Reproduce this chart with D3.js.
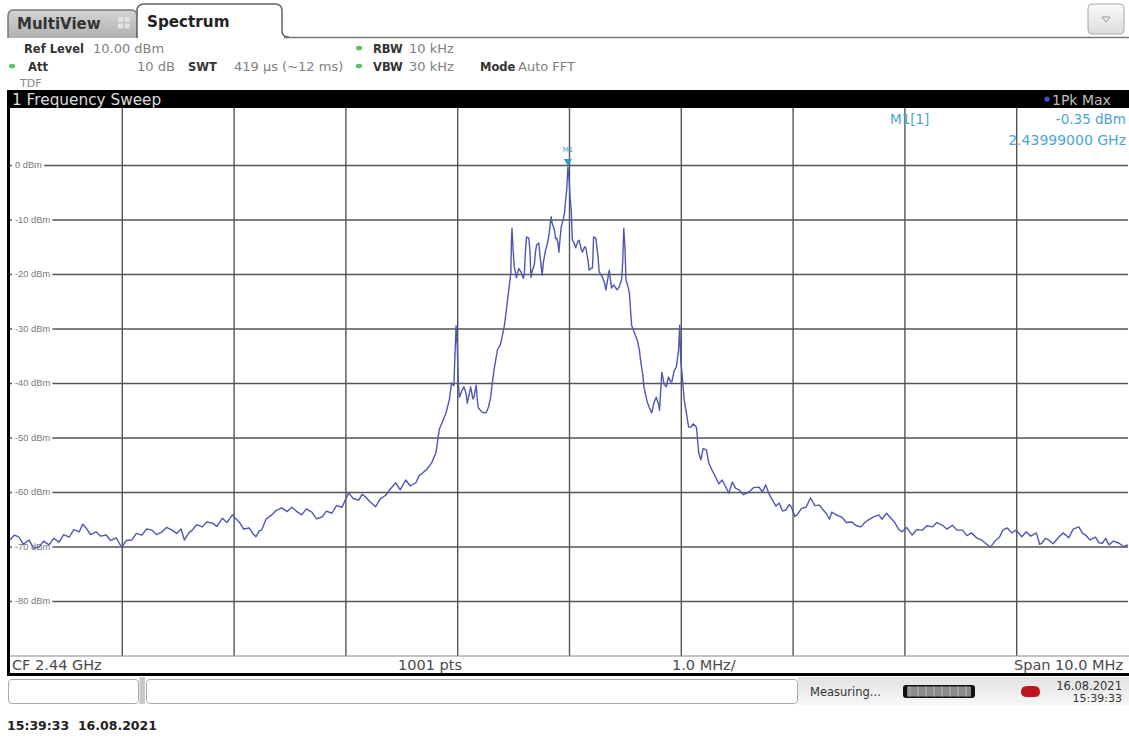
<!DOCTYPE html>
<html><head><meta charset="utf-8">
<script src="https://cdn.jsdelivr.net/npm/d3@7"></script>
<style>
html,body{margin:0;padding:0;background:#fff;}
svg{display:block;}
</style></head>
<body>
<script>
// ---------- DATA ----------
const centerFreqGHz = 2.44;
const spanMHz = 10;
const refLevelDbm = 10;
const levelTicks = [0, -10, -20, -30, -40, -50, -60, -70, -80];
const levelTickLabels = ["0 dBm", "-10 dBm", "-20 dBm", "-30 dBm", "-40 dBm", "-50 dBm", "-60 dBm", "-70 dBm", "-80 dBm"];
const freqDivisionsMHz = [-4, -3, -2, -1, 0, 1, 2, 3, 4];
const marker = {name: "M1", label: "M1[1]", offsetMHz: -0.01, levelDbm: -0.35, levelText: "-0.35 dBm", freqText: "2.43999000 GHz"};
const headerRow1 = [["Ref Level", "10.00 dBm"], ["RBW", "10 kHz"]];
const headerRow2 = [["Att", "10 dB"], ["SWT", "419 µs (~12 ms)"], ["VBW", "30 kHz"], ["Mode", "Auto FFT"]];
const footerLabels = ["CF 2.44 GHz", "1001 pts", "1.0 MHz/", "Span 10.0 MHz"];
const dateText = "16.08.2021";
const timeText = "15:39:33";

// trace: [frequency offset from CF in MHz, level in dBm]
const trace = [
[-5.00,-68.8],[-4.96,-67.9],[-4.92,-68.3],[-4.88,-69.6],[-4.83,-68.8],[-4.79,-70.3],[-4.74,-70.1],[-4.70,-69.0],
[-4.65,-69.7],[-4.61,-68.5],[-4.56,-69.2],[-4.52,-67.8],[-4.47,-68.3],[-4.43,-66.9],[-4.38,-67.3],[-4.35,-65.9],
[-4.32,-66.6],[-4.28,-67.8],[-4.23,-67.3],[-4.19,-68.1],[-4.14,-67.9],[-4.10,-68.9],[-4.05,-68.4],[-4.02,-69.5],
[-4.00,-70.1],[-3.96,-68.9],[-3.91,-68.8],[-3.87,-67.6],[-3.82,-67.9],[-3.78,-66.8],[-3.73,-67.0],[-3.69,-67.8],
[-3.64,-67.3],[-3.60,-66.5],[-3.55,-67.0],[-3.51,-67.6],[-3.47,-66.8],[-3.44,-68.8],[-3.40,-67.5],[-3.37,-67.0],
[-3.33,-66.0],[-3.28,-66.4],[-3.24,-65.5],[-3.19,-65.7],[-3.15,-66.3],[-3.10,-64.8],[-3.06,-65.6],[-3.01,-64.2],
[-2.98,-64.9],[-2.95,-65.5],[-2.91,-66.8],[-2.86,-66.6],[-2.83,-67.6],[-2.80,-68.2],[-2.77,-67.1],[-2.75,-67.0],
[-2.71,-65.0],[-2.66,-64.2],[-2.62,-63.4],[-2.57,-62.9],[-2.52,-63.6],[-2.48,-62.8],[-2.44,-63.5],[-2.39,-64.2],
[-2.35,-63.1],[-2.30,-63.7],[-2.26,-64.9],[-2.21,-64.6],[-2.17,-63.5],[-2.12,-63.9],[-2.08,-62.5],[-2.03,-62.8],
[-2.00,-61.4],[-1.97,-60.2],[-1.93,-61.2],[-1.88,-61.5],[-1.85,-60.4],[-1.82,-60.9],[-1.78,-61.8],[-1.73,-62.7],
[-1.69,-61.3],[-1.64,-60.6],[-1.60,-59.5],[-1.55,-58.3],[-1.51,-59.6],[-1.46,-57.8],[-1.42,-58.9],[-1.37,-58.3],
[-1.34,-57.0],[-1.31,-56.5],[-1.27,-55.8],[-1.23,-54.7],[-1.19,-52.8],[-1.16,-48.5],[-1.12,-46.5],[-1.10,-45.5],
[-1.07,-43.0],[-1.05,-40.0],[-1.03,-40.5],[-1.02,-35.0],[-1.01,-29.5],[-1.00,-33.0],[-0.99,-40.0],[-0.98,-42.6],
[-0.96,-41.5],[-0.94,-40.7],[-0.92,-42.0],[-0.91,-43.7],[-0.89,-41.8],[-0.88,-40.7],[-0.86,-42.9],[-0.85,-42.6],
[-0.84,-41.5],[-0.83,-40.4],[-0.82,-43.2],[-0.81,-44.6],[-0.78,-45.3],[-0.76,-45.5],[-0.74,-45.4],[-0.72,-44.4],
[-0.70,-42.5],[-0.69,-40.7],[-0.67,-37.5],[-0.64,-33.9],[-0.62,-33.2],[-0.61,-32.7],[-0.58,-29.7],[-0.56,-26.6],
[-0.55,-24.8],[-0.53,-21.5],[-0.52,-19.8],[-0.515,-14.0],[-0.51,-11.6],[-0.50,-15.5],[-0.49,-18.7],[-0.48,-19.6],
[-0.47,-20.7],[-0.45,-19.0],[-0.43,-19.6],[-0.41,-20.8],[-0.40,-20.2],[-0.39,-16.0],[-0.38,-13.2],[-0.36,-13.4],
[-0.35,-15.5],[-0.34,-20.6],[-0.33,-19.5],[-0.31,-18.3],[-0.30,-16.0],[-0.29,-14.7],[-0.27,-14.3],[-0.26,-16.5],
[-0.24,-20.2],[-0.23,-18.0],[-0.21,-15.6],[-0.20,-15.0],[-0.18,-13.0],[-0.16,-9.5],[-0.15,-10.8],[-0.13,-11.9],
[-0.12,-13.5],[-0.11,-13.4],[-0.10,-14.2],[-0.09,-16.0],[-0.08,-13.5],[-0.07,-11.4],[-0.05,-9.8],[-0.04,-8.8],
[-0.03,-6.4],[-0.02,-4.5],[-0.01,-0.35],[0.00,-2.5],[0.01,-6.0],[0.02,-8.3],[0.03,-13.8],[0.05,-14.5],
[0.06,-15.2],[0.08,-14.0],[0.09,-13.8],[0.11,-15.5],[0.12,-16.0],[0.14,-15.0],[0.15,-15.2],[0.17,-17.5],
[0.18,-19.3],[0.20,-18.9],[0.21,-18.9],[0.22,-13.2],[0.24,-13.4],[0.26,-17.0],[0.27,-19.6],[0.29,-20.3],
[0.30,-20.6],[0.32,-21.8],[0.33,-22.9],[0.35,-20.5],[0.36,-19.3],[0.37,-21.0],[0.38,-22.6],[0.40,-22.0],
[0.43,-22.9],[0.45,-22.3],[0.47,-21.1],[0.48,-18.0],[0.49,-11.6],[0.50,-15.0],[0.51,-21.1],[0.53,-22.5],
[0.54,-23.5],[0.56,-29.4],[0.58,-30.5],[0.61,-32.1],[0.63,-34.0],[0.64,-35.8],[0.66,-38.5],[0.67,-40.7],
[0.70,-43.5],[0.72,-44.6],[0.74,-45.5],[0.76,-43.6],[0.78,-42.6],[0.80,-43.8],[0.81,-45.0],[0.83,-38.0],
[0.85,-40.2],[0.87,-40.7],[0.89,-38.9],[0.91,-39.8],[0.92,-39.8],[0.94,-37.8],[0.96,-37.1],[0.98,-34.0],
[0.99,-29.4],[1.00,-36.0],[1.01,-38.0],[1.03,-43.1],[1.05,-45.5],[1.07,-48.1],[1.09,-48.1],[1.11,-47.5],
[1.14,-48.1],[1.16,-52.8],[1.18,-54.1],[1.20,-52.0],[1.23,-52.3],[1.25,-54.7],[1.28,-56.0],[1.31,-57.2],
[1.34,-58.5],[1.37,-57.8],[1.40,-59.0],[1.43,-60.2],[1.46,-58.2],[1.49,-59.3],[1.52,-59.6],[1.56,-60.5],
[1.61,-60.0],[1.65,-59.2],[1.70,-59.1],[1.73,-60.0],[1.76,-58.7],[1.79,-60.4],[1.82,-61.5],[1.85,-62.6],
[1.88,-62.0],[1.91,-63.5],[1.94,-63.3],[1.97,-62.3],[1.99,-62.8],[2.02,-64.5],[2.04,-64.2],[2.08,-63.0],
[2.12,-62.8],[2.16,-61.1],[2.20,-62.5],[2.24,-62.4],[2.27,-63.2],[2.30,-63.9],[2.33,-65.0],[2.35,-63.7],
[2.40,-64.3],[2.44,-64.6],[2.48,-65.6],[2.53,-65.5],[2.57,-66.2],[2.61,-66.4],[2.65,-65.5],[2.68,-65.1],
[2.72,-64.6],[2.77,-64.2],[2.80,-65.0],[2.84,-63.9],[2.88,-64.8],[2.91,-65.5],[2.95,-66.9],[2.98,-67.3],
[3.02,-66.5],[3.07,-67.9],[3.11,-66.9],[3.16,-67.0],[3.20,-66.2],[3.25,-66.4],[3.29,-65.6],[3.34,-66.1],
[3.38,-66.8],[3.43,-66.1],[3.47,-67.0],[3.52,-67.0],[3.56,-68.0],[3.60,-67.5],[3.65,-68.5],[3.69,-68.8],
[3.73,-69.5],[3.77,-70.1],[3.81,-69.0],[3.85,-68.3],[3.88,-67.0],[3.92,-66.6],[3.96,-67.5],[4.00,-67.0],
[4.05,-68.2],[4.09,-67.3],[4.13,-68.1],[4.18,-67.5],[4.21,-69.6],[4.23,-69.4],[4.26,-68.5],[4.29,-68.8],
[4.33,-69.5],[4.38,-68.3],[4.42,-67.5],[4.47,-68.4],[4.51,-66.8],[4.56,-66.4],[4.59,-67.5],[4.62,-67.9],
[4.66,-68.8],[4.71,-68.3],[4.74,-69.3],[4.77,-69.4],[4.80,-68.5],[4.83,-69.7],[4.87,-69.0],[4.92,-69.4],
[4.96,-70.0],[5.00,-69.7]
];

// ---------- DRAW ----------
const W = 1129, H = 738;
const svg = d3.select("body").append("svg").attr("width", W).attr("height", H);
const SANS = "'DejaVu Sans', 'Liberation Sans', sans-serif";
const defs = svg.append("defs");

const plot = {left: 10, right: 1128, top: 108, bottom: 656};
const x = d3.scaleLinear().domain([-spanMHz / 2, spanMHz / 2]).range([10, 1128]);
const y = d3.scaleLinear().domain([refLevelDbm, refLevelDbm - 100]).range([110.5, 655.5]);

function grad(id, c0, c1) {
  const g = defs.append("linearGradient").attr("id", id).attr("x1", 0).attr("x2", 0).attr("y1", 0).attr("y2", 1);
  g.append("stop").attr("offset", 0).attr("stop-color", c0);
  g.append("stop").attr("offset", 1).attr("stop-color", c1);
}
grad("tabGrey", "#d4d4d4", "#b0b0b0");
grad("btnGrey", "#fbfbfb", "#dcdcdc");
grad("statusGrey", "#e2e2e2", "#f7f7f7");

// --- tabs ---
svg.append("line").attr("x1", 284).attr("x2", 1129).attr("y1", 37.5).attr("y2", 37.5).attr("stroke", "#777").attr("stroke-width", 1.5);
svg.append("path").attr("d", "M8,38 L8,16 Q8,10 14,10 L131,10 Q137,10 137,16 L137,38")
  .attr("fill", "url(#tabGrey)").attr("stroke", "#777").attr("stroke-width", 1.5);
svg.append("path").attr("d", "M137,38 L137,11 Q137,4 144,4 L275,4 Q282,4 282,11 L282,31 Q282,37 289,37")
  .attr("fill", "#fff").attr("stroke", "#666").attr("stroke-width", 1.5);
svg.append("text").attr("x", 17).attr("y", 29).attr("font-family", SANS).attr("font-weight", "bold").attr("font-size", 15).attr("fill", "#333").text("MultiView");
const icon = svg.append("g").attr("fill", "#e2e2e2");
[[118, 17], [124.5, 17], [118, 23.5], [124.5, 23.5]].forEach(p => icon.append("rect").attr("x", p[0]).attr("y", p[1]).attr("width", 5).attr("height", 5).attr("rx", 1));
svg.append("text").attr("x", 147).attr("y", 27).attr("font-family", SANS).attr("font-weight", "bold").attr("font-size", 15.2).attr("fill", "#222").text("Spectrum");
svg.append("rect").attr("x", 1088).attr("y", 4).attr("width", 36).attr("height", 30).attr("rx", 4)
  .attr("fill", "url(#btnGrey)").attr("stroke", "#aaa");
svg.append("path").attr("d", "M1102,17 L1110,17 L1106,22 Z").attr("fill", "none").attr("stroke", "#999");

// --- header info ---
function hdr(label, lx, value, vx, yy, dot) {
  if (dot) svg.append("ellipse").attr("cx", dot).attr("cy", yy - 5).attr("rx", 3.2).attr("ry", 2.3).attr("fill", "#5fbf6a");
  svg.append("text").attr("x", lx).attr("y", yy).attr("font-family", SANS).attr("font-weight", "bold").attr("font-size", 11.5).attr("fill", "#333").text(label);
  svg.append("text").attr("x", vx).attr("y", yy).attr("font-family", SANS).attr("font-size", 13).attr("fill", "#808080").text(value);
}
hdr(headerRow1[0][0], 24, headerRow1[0][1], 93, 53, null);
hdr(headerRow1[1][0], 373, headerRow1[1][1], 409, 53, 359);
hdr(headerRow2[0][0], 28, headerRow2[0][1], 137, 71, 12);
hdr(headerRow2[1][0], 188, headerRow2[1][1], 234, 71, null);
hdr(headerRow2[2][0], 373, headerRow2[2][1], 409, 71, 359);
hdr(headerRow2[3][0], 480, headerRow2[3][1], 518, 71, null);
svg.append("text").attr("x", 20).attr("y", 87).attr("font-family", SANS).attr("font-size", 11).attr("fill", "#888").text("TDF");

// --- title bar ---
svg.append("rect").attr("x", 7).attr("y", 90).attr("width", 1122).attr("height", 18).attr("fill", "#000");
svg.append("text").attr("x", 12).attr("y", 105).attr("font-family", SANS).attr("font-size", 15.3).attr("fill", "#dcdcdc").text("1 Frequency Sweep");
svg.append("circle").attr("cx", 1047).attr("cy", 99).attr("r", 2.6).attr("fill", "#3a55d8");
svg.append("text").attr("x", 1052).attr("y", 104.5).attr("font-family", SANS).attr("font-size", 14).attr("fill", "#bdbdbd").text("1Pk Max");

// --- plot grid ---
const gridColor = "#555";
svg.append("g").attr("transform", `translate(0,${plot.bottom})`)
  .call(d3.axisBottom(x).tickValues(freqDivisionsMHz).tickSize(-(plot.bottom - plot.top)).tickFormat(""))
  .call(g => g.select(".domain").remove())
  .call(g => g.selectAll(".tick line").attr("stroke", gridColor).attr("stroke-width", 1.4));
svg.append("g").attr("transform", `translate(${plot.right},0)`)
  .call(d3.axisLeft(y).tickValues(levelTicks).tickSize(plot.right - plot.left).tickFormat(""))
  .call(g => g.select(".domain").remove())
  .call(g => g.selectAll(".tick line").attr("stroke", gridColor).attr("stroke-width", 1.4));

const lbl = svg.append("g");
levelTicks.forEach((v, i) => {
  const t = lbl.append("text").attr("x", 15).attr("y", y(v) + 3.3).attr("font-family", "'Liberation Sans', Arial, sans-serif").attr("font-size", 9.3)
    .attr("fill", "#777").text(levelTickLabels[i]);
  const bb = t.node().getBBox();
  lbl.insert("rect", "text").attr("x", bb.x - 3).attr("y", y(v) - 2).attr("width", bb.width + 5).attr("height", 4).attr("fill", "#fff");
});

// --- trace ---
svg.append("path").datum(trace)
  .attr("d", d3.line().x(d => x(d[0])).y(d => y(d[1])))
  .attr("fill", "none").attr("stroke", "#4f57b3").attr("stroke-width", 1.4).attr("stroke-linejoin", "round");

// --- marker ---
const mx = x(marker.offsetMHz), my = y(marker.levelDbm);
svg.append("path").attr("d", `M${mx - 4},${my - 8} L${mx + 4},${my - 8} L${mx},${my - 1} Z`).attr("fill", "#2d9cc7");
svg.append("text").attr("x", mx).attr("y", my - 15).attr("text-anchor", "middle").attr("font-family", SANS).attr("font-size", 7).attr("fill", "#3aa2cc").text(marker.name);
svg.append("text").attr("x", 890).attr("y", 124).attr("font-family", SANS).attr("font-size", 13.5).attr("fill", "#4aa6cf").text(marker.label);
svg.append("text").attr("x", 1126).attr("y", 124).attr("text-anchor", "end").attr("font-family", SANS).attr("font-size", 13.5).attr("fill", "#4aa6cf").text(marker.levelText);
svg.append("text").attr("x", 1126).attr("y", 145).attr("text-anchor", "end").attr("font-family", SANS).attr("font-size", 14).attr("fill", "#4aa6cf").text(marker.freqText);

// --- bottom bar ---
svg.append("rect").attr("x", 10).attr("y", plot.bottom).attr("width", 1119).attr("height", 17).attr("fill", "#fff");
svg.append("line").attr("x1", 10).attr("x2", 1129).attr("y1", plot.bottom).attr("y2", plot.bottom).attr("stroke", "#888").attr("stroke-width", 1);
svg.append("rect").attr("x", 7).attr("y", 673).attr("width", 1122).attr("height", 3).attr("fill", "#000");
svg.append("rect").attr("x", 7).attr("y", 90).attr("width", 3).attr("height", 586).attr("fill", "#000");
const fb = [[12, "start"], [398, "start"], [672, "start"], [1123, "end"]];
footerLabels.forEach((t, i) => {
  svg.append("text").attr("x", fb[i][0]).attr("y", 670).attr("text-anchor", fb[i][1])
    .attr("font-family", SANS).attr("font-size", 14.5).attr("fill", "#4a4a4a").text(t);
});

// --- status row ---
svg.append("rect").attr("x", 798).attr("y", 677).attr("width", 331).attr("height", 28).attr("fill", "url(#statusGrey)");
svg.append("rect").attr("x", 8.5).attr("y", 679.5).attr("width", 130).attr("height", 24).attr("rx", 3).attr("fill", "#fff").attr("stroke", "#aaa");
svg.append("rect").attr("x", 139.5).attr("y", 677).attr("width", 5.5).attr("height", 27).attr("fill", "#c8c8c8");
svg.append("rect").attr("x", 146.5).attr("y", 679.5).attr("width", 651).attr("height", 24).attr("rx", 3).attr("fill", "#fff").attr("stroke", "#aaa");
svg.append("text").attr("x", 810).attr("y", 696).attr("font-family", SANS).attr("font-size", 11.5).attr("fill", "#333").text("Measuring...");
svg.append("rect").attr("x", 903).attr("y", 685).attr("width", 72).attr("height", 13).attr("rx", 3).attr("fill", "#111");
svg.append("rect").attr("x", 907).attr("y", 686.5).attr("width", 64).attr("height", 10).attr("fill", "#8a8a8a");
d3.range(8).forEach(i => svg.append("line").attr("x1", 910 + i * 8).attr("x2", 910 + i * 8).attr("y1", 686.5).attr("y2", 696.5).attr("stroke", "#b0b0b0").attr("stroke-width", 1.2));
svg.append("path").attr("d", "M1021,692 Q1021,686 1027,686 L1034,686 Q1040,686 1040,692 Q1040,697 1034,697 L1027,697 Q1021,697 1021,692 Z").attr("fill", "#c0141e");
svg.append("text").attr("x", 1122).attr("y", 690).attr("text-anchor", "end").attr("font-family", SANS).attr("font-size", 11.5).attr("fill", "#333").text(dateText);
svg.append("text").attr("x", 1122).attr("y", 702).attr("text-anchor", "end").attr("font-family", SANS).attr("font-size", 11).attr("fill", "#333").text(timeText);

// --- timestamp ---
svg.append("text").attr("x", 7).attr("y", 730).attr("font-family", SANS).attr("font-weight", "bold").attr("font-size", 12.5).attr("fill", "#222").attr("xml:space", "preserve").text(timeText + "  " + dateText);
</script>
</body></html>
